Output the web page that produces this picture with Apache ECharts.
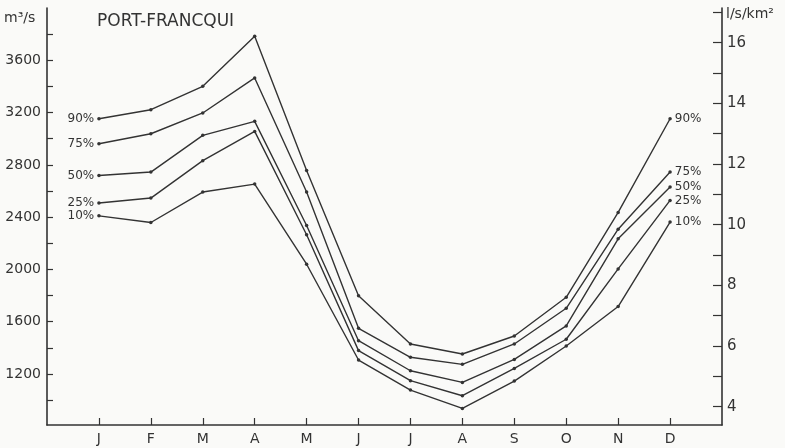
<!DOCTYPE html>
<html>
<head>
<meta charset="utf-8">
<script src="https://cdn.jsdelivr.net/npm/echarts@6/dist/echarts.min.js"></script>
<style>
html,body{margin:0;padding:0;background:#fafaf8;}
#c{width:785px;height:448px;}
</style>
</head>
<body>
<div id="c"></div>
<script>
// ---- data ----
var months = ['J','F','M','A','M','J','J','A','S','O','N','D'];
var seriesNames = ['90%','75%','50%','25%','10%'];
var q90 = [3153, 3222, 3401, 3784, 2757, 1798, 1430, 1353, 1491, 1787, 2436, 3153];
var q75 = [2962, 3038, 3197, 3465, 2592, 1550, 1328, 1274, 1430, 1703, 2308, 2745];
var q50 = [2719, 2745, 3026, 3133, 2336, 1455, 1225, 1136, 1312, 1568, 2234, 2630];
var q25 = [2508, 2546, 2832, 3056, 2265, 1379, 1149, 1034, 1243, 1466, 2004, 2528];
var q10 = [2410, 2359, 2592, 2653, 2040, 1307, 1077,  937, 1146, 1414, 1716, 2362];
var leftTicks = [1000,1200,1400,1600,1800,2000,2200,2400,2600,2800,3000,3200,3400,3600,3800];
var leftLabels = [1200,1600,2000,2400,2800,3200,3600];
var rightTicks = [4,5,6,7,8,9,10,11,12,13,14,15,16,17];
var rightLabels = [4,6,8,10,12,14,16];
var title = 'PORT-FRANCQUI';
var leftUnit = 'm³/s';
var rightUnit = 'l/s/km²';

var allSeries = [q90, q75, q50, q25, q10];
var ink = '#333333';
var font = 'DejaVu Sans';

var series = allSeries.map(function (vals, s) {
  return {
    type: 'line',
    name: seriesNames[s],
    yAxisIndex: 0,
    symbol: 'circle',
    symbolSize: 3.5,
    lineStyle: { color: ink, width: 1.4 },
    itemStyle: { color: ink },
    silent: true,
    animation: false,
    data: vals.map(function (v, i) {
      var item = { value: [i + 1, v] };
      if (i === 0) item.label = { show: true, position: 'left', distance: 3, formatter: seriesNames[s] };
      else if (i === vals.length - 1) item.label = { show: true, position: 'right', distance: 3, formatter: seriesNames[s] };
      return item;
    }),
    label: { show: false, color: ink, fontFamily: font, fontSize: 12 }
  };
});

var chart = echarts.init(document.getElementById('c'), null, { renderer: 'canvas' });
chart.setOption({
  backgroundColor: '#fafaf8',
  animation: false,
  grid: { left: 47, right: 63, top: 8, bottom: 23, containLabel: false },
  xAxis: {
    type: 'value', min: 0, max: 13,
    axisLine: { show: true, lineStyle: { color: ink, width: 1.6 } },
    axisTick: { show: true, inside: true, length: 7, customValues: months.map(function (m, i) { return i + 1; }), lineStyle: { color: ink, width: 1.2 } },
    axisLabel: { show: true, customValues: months.map(function (m, i) { return i + 1; }), formatter: function (v) { return months[Math.round(v) - 1] || ''; }, color: ink, fontFamily: font, fontSize: 14, margin: 7 },
    splitLine: { show: false }
  },
  yAxis: [
    {
      type: 'value', min: 810, max: 4000, position: 'left',
      axisLine: { show: true, lineStyle: { color: ink, width: 1.6 } },
      axisTick: { show: true, inside: true, length: 6, customValues: leftTicks, lineStyle: { color: ink, width: 1.2 } },
      axisLabel: { show: true, customValues: leftLabels, formatter: function (v) { return String(Math.round(v)); }, color: ink, fontFamily: font, fontSize: 14, margin: 6 },
      splitLine: { show: false }
    },
    {
      type: 'value', min: 3.397, max: 17.144, position: 'right',
      axisLine: { show: true, lineStyle: { color: ink, width: 1.6 } },
      axisTick: { show: true, inside: true, length: 9, customValues: rightTicks, lineStyle: { color: ink, width: 1.2 } },
      axisLabel: { show: true, customValues: rightLabels, formatter: function (v) { return String(Math.round(v)); }, color: ink, fontFamily: font, fontSize: 15, margin: 5 },
      splitLine: { show: false }
    }
  ],
  graphic: [
    { type: 'text', left: 97, top: 13, style: { text: title, fill: ink, font: '17px "DejaVu Sans"' } },
    { type: 'text', left: 4, top: 11, style: { text: leftUnit, fill: ink, font: '14px "DejaVu Sans"' } },
    { type: 'text', left: 726, top: 7, style: { text: rightUnit, fill: ink, font: '14px "DejaVu Sans"' } }
  ],
  series: series
});
</script>
</body>
</html>
